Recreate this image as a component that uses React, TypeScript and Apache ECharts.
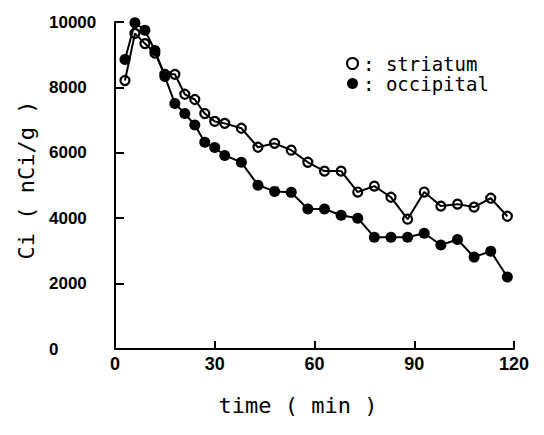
import React, { useEffect, useRef } from "react";
import * as echarts from "echarts";

const times = [3, 6, 9, 12, 15, 18, 21, 24, 27, 30, 33, 38, 43, 48, 53, 58, 63, 68, 73, 78, 83, 88, 93, 98, 103, 108, 113, 118];
const striatum = [8210, 9650, 9340, 9050, 8400, 8400, 7790, 7630, 7200, 6960, 6900, 6750, 6170, 6290, 6080, 5710, 5440, 5440, 4800, 4980, 4640, 3970, 4800, 4370, 4430, 4340, 4610, 4060];
const occipital = [8850, 9980, 9750, 9130, 8330, 7510, 7200, 6850, 6320, 6160, 5920, 5710, 5010, 4820, 4790, 4280, 4280, 4090, 4000, 3420, 3420, 3420, 3540, 3180, 3350, 2810, 2990, 2200];
const xTicks = { min: 0, max: 120, interval: 30 };
const yTicks = { min: 0, max: 10000, interval: 2000 };
const xTitle = "time ( min )";
const yTitle = "Ci ( nCi/g )";

const LABEL_FONT = "'Liberation Sans', Arial, sans-serif";
const MONO = "'DejaVu Sans Mono', 'Liberation Mono', monospace";

export default function App() {
  const ref = useRef<HTMLDivElement>(null);
  useEffect(() => {
    if (!ref.current) return;
    const chart = echarts.init(ref.current, undefined, { renderer: "svg" });
    const pair = (vals: number[]) => times.map((t, i) => [t, vals[i]]);
    chart.setOption({
      animation: false,
      backgroundColor: "#fff",
      grid: { left: 115, top: 22, right: 30, bottom: 86, containLabel: false },
      xAxis: {
        type: "value",
        min: xTicks.min,
        max: xTicks.max,
        interval: xTicks.interval,
        splitLine: { show: false },
        axisLine: { show: true, lineStyle: { color: "#000", width: 2 } },
        axisTick: { show: true, inside: true, length: 8, lineStyle: { color: "#000", width: 2 } },
        axisLabel: { color: "#000", fontFamily: LABEL_FONT, fontWeight: "bold", fontSize: 18, margin: 6, formatter: (v: number) => String(v) },
      },
      yAxis: {
        type: "value",
        min: yTicks.min,
        max: yTicks.max,
        interval: yTicks.interval,
        splitLine: { show: false },
        axisLine: { show: true, lineStyle: { color: "#000", width: 2 } },
        axisTick: { show: true, inside: true, length: 9, lineStyle: { color: "#000", width: 2 } },
        axisLabel: { color: "#000", fontFamily: LABEL_FONT, fontWeight: "bold", fontSize: 17, align: "left", margin: 66, formatter: (v: number) => String(v) },
      },
      legend: {
        orient: "vertical",
        left: 341,
        top: 49,
        itemWidth: 11,
        itemHeight: 11,
        itemGap: 1,
        formatter: ": {name}",
        textStyle: { color: "#000", fontFamily: MONO, fontSize: 19, lineHeight: 18 },
        data: [
          { name: "striatum", icon: "circle", itemStyle: { color: "#fff", borderColor: "#000", borderWidth: 2 } },
          { name: "occipital", icon: "circle", itemStyle: { color: "#000", borderWidth: 0 } },
        ],
      },
      graphic: [
        {
          type: "text",
          x: 298,
          y: 405,
          style: { text: xTitle, font: `22px ${MONO}`, fill: "#000", textAlign: "center", textVerticalAlign: "middle" },
        },
        {
          type: "text",
          x: 26,
          y: 180,
          rotation: Math.PI / 2,
          style: { text: yTitle, font: `22px ${MONO}`, fill: "#000", textAlign: "center", textVerticalAlign: "middle" },
        },
      ],
      series: [
        {
          name: "striatum",
          type: "line",
          data: pair(striatum),
          symbol: "circle",
          symbolSize: 9,
          lineStyle: { color: "#000", width: 2 },
          itemStyle: { color: "rgba(255,255,255,0)", borderColor: "#000", borderWidth: 2.2 },
          emphasis: { disabled: true },
          z: 2,
        },
        {
          name: "occipital",
          type: "line",
          data: pair(occipital),
          symbol: "circle",
          symbolSize: 11,
          lineStyle: { color: "#000", width: 2 },
          itemStyle: { color: "#000", borderWidth: 0 },
          emphasis: { disabled: true },
          z: 3,
        },
      ],
    });
    return () => chart.dispose();
  }, []);
  return <div ref={ref} style={{ position: "absolute", left: 0, top: 0, width: 544, height: 435 }} />;
}
